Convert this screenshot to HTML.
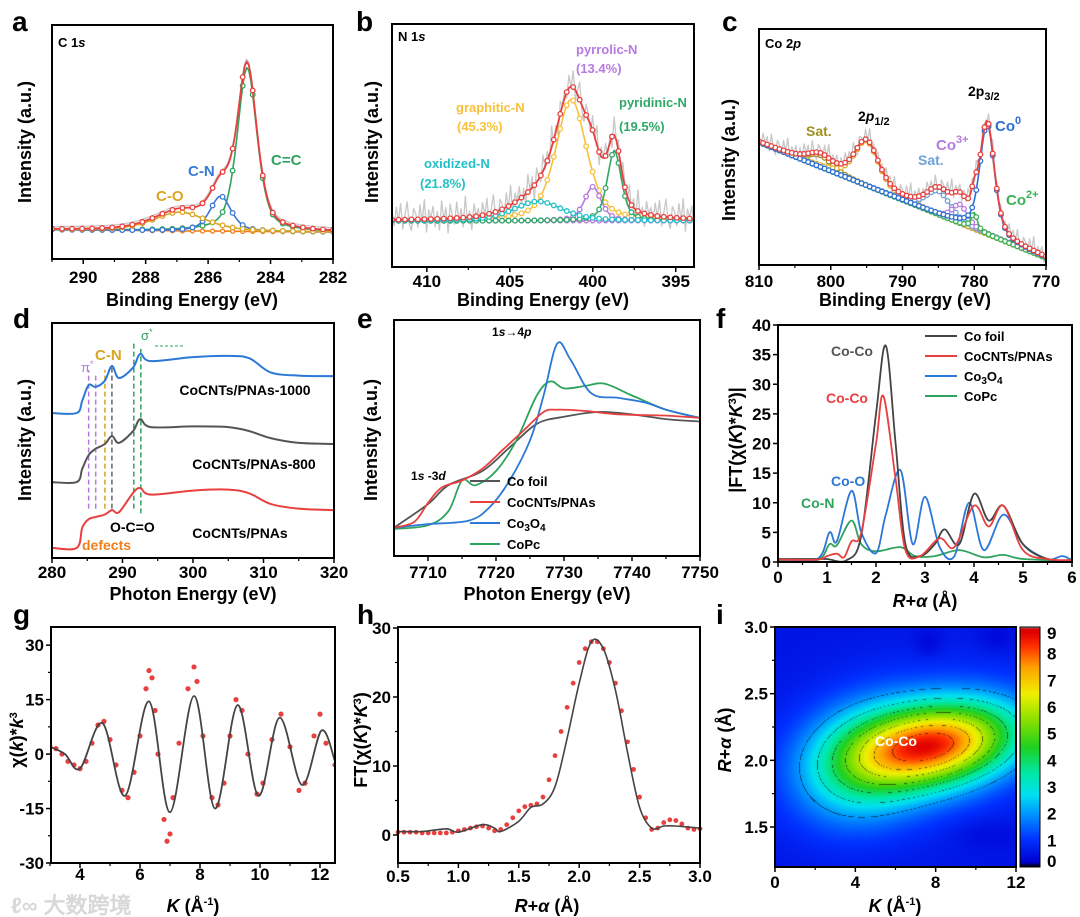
<!DOCTYPE html>
<html><head><meta charset="utf-8">
<style>
html,body{margin:0;padding:0;background:#fff;}
#wrap{position:relative;width:1080px;height:917px;overflow:hidden;background:#fff;}
#fig{position:absolute;left:0;top:0;z-index:2;}
#heat{position:absolute;left:775px;top:627px;z-index:1;}
#cbar{position:absolute;left:1020px;top:627px;z-index:1;}
text{font-family:"Liberation Sans",sans-serif;}
</style></head>
<body>
<div id="wrap">
<canvas id="heat" width="241" height="240"></canvas>
<canvas id="cbar" width="20" height="240"></canvas>
<svg id="fig" width="1080" height="917" viewBox="0 0 1080 917" xmlns="http://www.w3.org/2000/svg">
<g font-weight="bold" font-size="28">
<text x="12" y="31">a</text><text x="356" y="31">b</text><text x="722" y="31">c</text>
<text x="13" y="328">d</text><text x="357" y="328">e</text><text x="716" y="328">f</text>
<text x="13" y="624">g</text><text x="357" y="624">h</text><text x="716" y="624">i</text>
</g>
<text x="11" y="913" font-family="Liberation Sans,WenQuanYi Zen Hei,sans-serif" font-size="22" fill="#d8d8d8" font-weight="bold">ℓ∞ 大数跨境</text>
</svg>
</div>
<script>
// ---------- data ----------
const aNames=['C=C','C-N','C-O'];
const aCenters=[284.75,285.6,286.9];
const aHeights=[70,15,8];
const aFwhm=[0.75,0.8,2.0];
const aBg=[12.5,11.5];
const bNames=['graphitic','pyrrolic','pyridinic','oxidized'];
const bCenters=[401.3,400.0,398.7,403.3];
const bHeights=[50,14,29,8];
const bFwhm=[2.2,1.2,1.0,3.5];
const bBg=[19,19];
const bNoise=[3,-5,6,-2,8,-7,1,9,-4,-8,5,2,-6,7,-3,10,-9,4,-1,6,-6,3,-8,9,-2,5,-10,7,0,-5,8,-3,4,-7,11,-4,2,-9,6,-1];
const cNames=['sat1','p12','sat2','co3','co2','co0'];
const cCenters=[801.5,795,785,782,780,778.2];
const cHeights=[5,19,10,8,7,47];
const cFwhm=[4,4,4,2.5,1.0,2.4];
const cBg=[52,3];
const cNoise=[2,-3,4,-1,3,-4,5,-2,-5,3,1,-3,4,-2,6,-4,2,-1,3,-5];
const dX=[280,283.5,284.3,285.2,286.2,287.5,288.5,289.5,291.5,292.5,294,300,305,308,311,315,320];
const dBlue=[61.7,61.7,67,73.6,72.8,75.5,81.7,76.6,81,86.8,83.8,85.5,86,85,79,77.6,77.4];
const dGray=[32.3,32.3,38,43.8,46.5,48.5,51.9,49,54,59.1,55.7,56,55.7,54,51,49,48.5];
const dRed=[4.3,4.3,13,16.5,17.5,18.5,20.4,19.5,27.7,29.8,27,28.7,29.1,27.5,23,21,20.4];
const eFoilX=[7705,7710,7713,7718,7722,7726,7730,7735,7740,7745,7750];
const eFoilY=[12,22,30,36,46,56,59,61,60,58,57];
const eRedX=[7705,7708,7710,7712,7715,7718,7721,7724,7727,7729,7733,7738,7745,7750];
const eRedY=[12,14.5,22.5,29,32,37,45,53,61,62,61.5,60,59.5,58.5];
const eBlueX=[7705,7710,7716,7719,7722,7725,7727,7729,7731,7734,7738,7742,7745,7750];
const eBlueY=[12,13.5,15,20.5,32,49,68,90,83,69,67,65,62,58.5];
const eGreenX=[7705,7710,7713,7715,7717,7720,7723,7726,7728,7730,7733,7736,7740,7745,7750];
const eGreenY=[11.5,13,19,32,30,36,49,68,74,71,72,73,68,62,58.5];
const fFoilX=[0,0.8,1.0,1.4,1.7,2.0,2.2,2.4,2.6,2.9,3.2,3.4,3.7,4.0,4.3,4.6,5.0,5.5,6];
const fFoilY=[0.5,0.5,0.5,0.3,4.5,25,36.5,20,3,1,3,5.5,3,11.5,7,9.5,3,0.5,0.3];
const fRedX=[0,0.8,1.0,1.2,1.35,1.5,1.7,2.0,2.15,2.4,2.6,2.9,3.3,3.6,4.0,4.3,4.6,5.0,5.5,6];
const fRedY=[0.4,0.4,1.0,1.4,0.8,3.5,5,20,28,14,2,1,4,2.5,9.5,6,9.5,2,0.5,0.3];
const fBlueX=[0,0.8,1.05,1.2,1.5,1.7,2.0,2.2,2.5,2.75,3.0,3.3,3.6,3.9,4.2,4.6,5.0,5.5,5.8,6];
const fBlueY=[0.5,0.5,5,3.5,12,5,1.5,8,15.5,3,11,2.5,1,10,2,8,3,0.5,1,0.3];
const fGreenX=[0,0.8,1.05,1.2,1.5,1.7,2.0,2.5,2.8,3.2,3.7,4.2,4.6,5,6];
const fGreenY=[0.3,0.3,3,2.8,7,3,1.8,2.5,1,1,2,0.8,1.2,0.5,0.2];
const gFitX=[3,3.5,4.0,4.75,5.5,6.3,7.0,7.8,8.5,9.25,9.95,10.65,11.4,12.05,12.5];
const gFitY=[2,0,-4,8.5,-11.5,14.5,-16,16,-15,13.5,-11.5,10,-8.5,6.5,-2];
const gDotX=[3.0,3.2,3.4,3.6,3.8,4.0,4.2,4.4,4.6,4.8,5.0,5.2,5.4,5.6,5.8,6.0,6.2,6.3,6.4,6.5,6.6,6.8,6.9,7.0,7.1,7.3,7.6,7.8,7.9,8.1,8.4,8.6,8.8,9.0,9.2,9.4,9.6,9.9,10.1,10.4,10.7,11.0,11.3,11.5,11.8,12.0,12.2,12.5];
const gDotY=[2,1.5,0,-2,-3,-4,-2,3,8,9,4,-3,-10,-12,-5,5,18,23,21,12,0,-18,-24,-22,-12,3,18,24,20,5,-12,-14,-8,5,15,12,0,-11,-8,4,11,2,-10,-8,5,11,3,-3];
const hFitX=[0.5,0.7,0.9,1.0,1.2,1.3,1.35,1.5,1.6,1.7,1.8,1.9,2.0,2.1,2.2,2.3,2.4,2.5,2.6,2.7,2.8,3.0];
const hFitY=[0.5,0.5,0.9,0.4,1.5,1.0,0.5,2,4,4.5,7,14,22,28,27,21,12,4,1,1.3,1.3,1];
const hDotX=[0.5,0.55,0.6,0.65,0.7,0.75,0.8,0.85,0.9,0.95,1.0,1.05,1.1,1.15,1.2,1.25,1.3,1.35,1.4,1.45,1.5,1.55,1.6,1.65,1.7,1.75,1.8,1.85,1.9,1.95,2.0,2.05,2.1,2.15,2.2,2.25,2.3,2.35,2.4,2.45,2.5,2.55,2.6,2.65,2.7,2.75,2.8,2.85,2.9,2.95,3.0];
const hDotY=[0.4,0.4,0.4,0.4,0.3,0.3,0.3,0.3,0.3,0.4,0.6,0.8,1.0,1.2,1.3,1.0,0.6,0.8,1.5,2.5,3.5,4.1,4.3,4.5,5.5,8,11.5,15,18.5,22,25,27,28,28,27,25,22,18,13.5,9.5,5.5,2.5,0.8,1.0,1.8,2.2,2.1,1.6,1.0,0.8,0.9];
const iBase=0.5;
const iBlobK=[8,4.2,7,7.6,11,10.5];
const iBlobR=[2.12,1.97,2.1,2.88,2.92,1.45];
const iBlobA=[6.8,2.2,0.9,-0.35,-0.3,-0.25];
const iBlobSK=[2.8,2.2,4.0,0.5,0.6,1.2];
const iBlobSR=[0.21,0.3,0.4,0.07,0.07,0.08];
const iColorVals=[0,0.15,1,2,2.7,3.5,4.5,5.5,6.5,7.5,8.3,8.8,8.95,9];
const iColors=['#000000','#0000d0','#0030ff','#0098ff','#00e0f0','#00e8a8','#20d020','#88e000','#f0f000','#ffa000','#ff3000','#e00000','#e00000','#909090'];

// ---------- helpers ----------
const NS='http://www.w3.org/2000/svg';
const svg=document.getElementById('fig');
function mk(tag,attrs,parent){const e=document.createElementNS(NS,tag);for(const k in attrs)e.setAttribute(k,attrs[k]);(parent||svg).appendChild(e);return e;}
function lin(d0,d1,r0,r1){return v=>r0+(v-d0)/(d1-d0)*(r1-r0);}
function pv(x,c,h,f){const d=(x-c)/f;return h*(0.5*Math.exp(-4*Math.LN2*d*d)+0.5/(1+4*d*d));}
function spline(pts){if(pts.length<2)return '';let d='M'+pts[0][0].toFixed(1)+','+pts[0][1].toFixed(1);
 for(let i=0;i<pts.length-1;i++){const p0=pts[i-1]||pts[i],p1=pts[i],p2=pts[i+1],p3=pts[i+2]||p2;
  const c1=[p1[0]+(p2[0]-p0[0])/6,p1[1]+(p2[1]-p0[1])/6],c2=[p2[0]-(p3[0]-p1[0])/6,p2[1]-(p3[1]-p1[1])/6];
  d+='C'+c1[0].toFixed(1)+','+c1[1].toFixed(1)+' '+c2[0].toFixed(1)+','+c2[1].toFixed(1)+' '+p2[0].toFixed(1)+','+p2[1].toFixed(1);}
 return d;}
function poly(pts){return 'M'+pts.map(p=>p[0].toFixed(1)+','+p[1].toFixed(1)).join('L');}
function txt(x,y,s,opt,parent,name){const t=mk('text',Object.assign({x:x,y:y,'font-weight':'bold','font-size':14},opt||{}),parent);t.innerHTML=s;
 
 return t;}
function panel(name,x0,y0,x1,y1){const g=mk('g',{});
 
 
 g.frame=[x0,y0,x1,y1];return g;}
function frame(g){const [x0,y0,x1,y1]=g.frame;const r=mk('rect',{x:x0,y:y0,width:x1-x0,height:y1-y0,fill:'none',stroke:'#000','stroke-width':2},g);
 
 }
function xticks(g,sx,vals,labels,minor,ly){const y1=g.frame[3];
 vals.forEach((v,i)=>{mk('line',{x1:sx(v),x2:sx(v),y1:y1,y2:y1+5,stroke:'#000','stroke-width':1.5},g);
  txt(sx(v),ly,labels[i],{'text-anchor':'middle','font-size':17},g,'x-tick-label');});
 (minor||[]).forEach(v=>mk('line',{x1:sx(v),x2:sx(v),y1:y1,y2:y1+3,stroke:'#000','stroke-width':1.2},g));}
function yticks(g,sy,vals,labels,minor){const x0=g.frame[0];
 vals.forEach((v,i)=>{mk('line',{x1:x0-5,x2:x0,y1:sy(v),y2:sy(v),stroke:'#000','stroke-width':1.5},g);
  txt(x0-7,sy(v)+6,labels[i],{'text-anchor':'end','font-size':17},g,'y-tick-label');});
 (minor||[]).forEach(v=>mk('line',{x1:x0-3,x2:x0,y1:sy(v),y2:sy(v),stroke:'#000','stroke-width':1.2},g));}
function ytitle(g,x,y,s,name){const t=txt(x,y,s,{'text-anchor':'middle','font-size':18,transform:'rotate(-90 '+x+' '+y+')'},g,name||'y-axis-title');return t;}
function xtitle(g,x,y,s){return txt(x,y,s,{'text-anchor':'middle','font-size':18},g,'x-axis-title');}
function path(g,d,color,w,name,extra){const p=mk('path',Object.assign({d:d,fill:'none',stroke:color,'stroke-width':w,'stroke-linejoin':'round'},extra||{}),g);
 
 return p;}
function markers(g,pts,color,step,r){for(let i=0;i<pts.length;i+=step){const c=mk('circle',{cx:pts[i][0],cy:pts[i][1],r:r||2.3,fill:'#fff',stroke:color,'stroke-width':1.3},g);
 
 }}
function clip(g,id){const cp=mk('clipPath',{id:id},g);const [x0,y0,x1,y1]=g.frame;mk('rect',{x:x0,y:y0,width:x1-x0,height:y1-y0},cp);return 'url(#'+id+')';}

function xps(g,sx,sy,dom,names,centers,heights,fwhm,bg,colors,bgColor,noise,noiseAmp,cid,step){
 const N=140,xs=[];for(let i=0;i<=N;i++)xs.push(dom[0]+(dom[1]-dom[0])*i/N);
 const bgf=x=>bg[0]+(bg[1]-bg[0])*(x-dom[0])/(dom[1]-dom[0]);
 const cp=clip(g,cid);const inner=mk('g',{'clip-path':cp},g);
 const sum=xs.map(x=>{let s=bgf(x);centers.forEach((c,i)=>s+=pv(x,c,heights[i],fwhm[i]));return s;});
 const raw=xs.map((x,i)=>[sx(x),sy(sum[i]+1+(noise?noise[i%noise.length]*noiseAmp:0))]);
 path(inner,poly(raw),'#c8c8c8',1.3,'raw-data');
 const bgp=xs.map(x=>[sx(x),sy(bgf(x))]);
 path(inner,poly(bgp),bgColor,1.6,'background-line');markers(inner,bgp,bgColor,step,2);
 centers.forEach((c,j)=>{const pts=xs.map(x=>[sx(x),sy(bgf(x)+pv(x,c,heights[j],fwhm[j]))]);
  path(inner,poly(pts),colors[j],1.6,'component-'+names[j]);markers(inner,pts,colors[j],step);});
 const sp=xs.map((x,i)=>[sx(x),sy(sum[i])]);
 path(inner,poly(sp),'#e8403f',1.8,'envelope-fit');markers(inner,sp,'#e8403f',step);
}

// ---------- panel a ----------
(function(){const g=panel('panel-a-c1s',52,25,333,259);
 const sx=lin(291,282,52,333),sy=lin(0,100,259,25);
 xps(g,sx,sy,[291,282],aNames,aCenters,aHeights,aFwhm,aBg,['#2ea35d','#3a78d8','#d8a524'],'#f07f1a',null,0,'ca',5);
 frame(g);xticks(g,sx,[290,288,286,284,282],['290','288','286','284','282'],[291,289,287,285,283],283);
 ytitle(g,31,142,'Intensity (a.u.)');xtitle(g,192,306,'Binding Energy (eV)');
 txt(58,47,'C 1<tspan font-style="italic">s</tspan>',{'font-size':13},g,'spectrum-label');
 txt(188,176,'C-N',{fill:'#3a78d8','font-size':15},g,'peak-label-cn');
 txt(156,201,'C-O',{fill:'#d8a524','font-size':15},g,'peak-label-co');
 txt(271,165,'C=C',{fill:'#2ea35d','font-size':15},g,'peak-label-cc');})();

// ---------- panel b ----------
(function(){const g=panel('panel-b-n1s',392,24,694,267);
 const sx=lin(412.1,393.9,392,694),sy=lin(0,100,267,24);
 xps(g,sx,sy,[412.1,393.9],bNames,bCenters,bHeights,bFwhm,bBg,['#f8c13a','#b57be0','#2fa868','#22c0c8'],'#b57be0',bNoise,0.7,'cb',3);
 frame(g);xticks(g,sx,[410,405,400,395],['410','405','400','395'],[407.5,402.5,397.5],287);
 ytitle(g,378,142,'Intensity (a.u.)');xtitle(g,543,306,'Binding Energy (eV)');
 txt(398,41,'N 1<tspan font-style="italic">s</tspan>',{'font-size':13},g,'spectrum-label');
 txt(576,54,'pyrrolic-N',{fill:'#b57be0','font-size':13},g,'label-pyrrolic');
 txt(576,73,'(13.4%)',{fill:'#b57be0','font-size':13},g,'label-pyrrolic-pct');
 txt(456,112,'graphitic-N',{fill:'#f8c13a','font-size':13},g,'label-graphitic');
 txt(457,131,'(45.3%)',{fill:'#f8c13a','font-size':13},g,'label-graphitic-pct');
 txt(619,107,'pyridinic-N',{fill:'#2fa868','font-size':13},g,'label-pyridinic');
 txt(619,131,'(19.5%)',{fill:'#2fa868','font-size':13},g,'label-pyridinic-pct');
 txt(424,168,'oxidized-N',{fill:'#22c0c8','font-size':13},g,'label-oxidized');
 txt(420,188,'(21.8%)',{fill:'#22c0c8','font-size':13},g,'label-oxidized-pct');})();

// ---------- panel c ----------
(function(){const g=panel('panel-c-co2p',759,29,1046,265);
 const sx=lin(810,770,759,1046),sy=lin(0,100,265,29);
 xps(g,sx,sy,[810,770],cNames,cCenters,cHeights,cFwhm,cBg,['#9a8a2a','#e0b030','#6fa0d8','#b57be0','#3ab050','#2b6fd6'],'#8b5a4a',cNoise,0.8,'cc',2);
 frame(g);xticks(g,sx,[810,800,790,780,770],['810','800','790','780','770'],[805,795,785,775],287);
 ytitle(g,735,160,'Intensity (a.u.)');xtitle(g,905,306,'Binding Energy (eV)');
 txt(765,48,'Co 2<tspan font-style="italic">p</tspan>',{'font-size':13},g,'spectrum-label');
 txt(858,121,'2<tspan font-style="italic">p</tspan><tspan font-size="11" dy="4">1/2</tspan>',{'font-size':14},g,'label-2p12');
 txt(968,96,'2p<tspan font-size="11" dy="4">3/2</tspan>',{'font-size':14},g,'label-2p32');
 txt(806,136,'Sat.',{fill:'#a09020','font-size':14},g,'label-sat1');
 txt(995,131,'Co<tspan font-size="11" dy="-7">0</tspan>',{fill:'#2b6fd6','font-size':15},g,'label-co0');
 txt(936,150,'Co<tspan font-size="11" dy="-7">3+</tspan>',{fill:'#b57be0','font-size':15},g,'label-co3');
 txt(918,165,'Sat.',{fill:'#6fa0d8','font-size':14},g,'label-sat2');
 txt(1006,205,'Co<tspan font-size="11" dy="-7">2+</tspan>',{fill:'#3ab050','font-size':15},g,'label-co2');})();

// ---------- panel d ----------
(function(){const g=panel('panel-d-nexafs',52,323,334,558);
 const sx=lin(280,320,52,334),sy=lin(0,100,558,323);
 const vl=[[283.5,'#f07f1a',14,4],[285.2,'#b57be0',28,80],[286.2,'#b57be0',28,78],[287.5,'#d8a524',28,80],[288.5,'#666',28,82],[291.6,'#2ea35d',28,92],[292.6,'#2ea35d',26,89]];
 vl.forEach(v=>{const l=mk('line',{x1:sx(v[0]),x2:sx(v[0]),y1:sy(v[2]+(v[0]<284?-10:-7)),y2:sy(v[3]),stroke:v[1],'stroke-width':1.5,'stroke-dasharray':'5,3'},g);
  
  });
 [[dBlue,'#2b78d6','curve-1000'],[dGray,'#555','curve-800'],[dRed,'#e8403f','curve-cocnts']].forEach(s=>path(g,spline(dX.map((x,i)=>[sx(x),sy(s[0][i])])),s[1],2,s[2]));
 frame(g);xticks(g,sx,[280,290,300,310,320],['280','290','300','310','320'],[285,295,305,315],578);
 ytitle(g,31,440,'Intensity (a.u.)');xtitle(g,193,600,'Photon Energy (eV)');
 txt(245,395,'CoCNTs/PNAs-1000',{'text-anchor':'middle','font-size':14},g,'label-1000');
 txt(254,469,'CoCNTs/PNAs-800',{'text-anchor':'middle','font-size':14},g,'label-800');
 txt(240,538,'CoCNTs/PNAs',{'text-anchor':'middle','font-size':14},g,'label-cocnts');
 txt(110,532,'O-C=O',{'font-size':14},g,'label-oco');
 txt(82,550,'defects',{fill:'#f07f1a','font-size':14},g,'label-defects');
 txt(95,360,'C-N',{fill:'#d8a524','font-size':15,'font-family':'Liberation Serif,serif'},g,'label-cn');
 txt(81,372,'π<tspan font-size="9" dy="-5">*</tspan>',{fill:'#b57be0','font-size':13,'font-weight':'normal'},g,'label-pi');
 txt(141,340,'σ<tspan font-size="9" dy="-5">*</tspan>',{fill:'#2ea35d','font-size':13,'font-weight':'normal'},g,'label-sigma');
 const ar=mk('line',{x1:155,x2:184,y1:346,y2:346,stroke:'#2ea35d','stroke-width':1,'stroke-dasharray':'3,2'},g);
 
 })();

// ---------- panel e ----------
(function(){const g=panel('panel-e-xanes',394,320,700,556);
 const sx=lin(7705,7750,394,700),sy=lin(0,100,556,320);
 [[eFoilX,eFoilY,'#555','co-foil'],[eGreenX,eGreenY,'#2ea35d','copc'],[eBlueX,eBlueY,'#2b78d6','co3o4'],[eRedX,eRedY,'#e8403f','cocnts']].forEach(s=>path(g,spline(s[0].map((x,i)=>[sx(x),sy(s[1][i])])),s[2],1.8,'curve-'+s[3]));
 frame(g);xticks(g,sx,[7710,7720,7730,7740,7750],['7710','7720','7730','7740','7750'],[7715,7725,7735,7745],578);
 ytitle(g,377,440,'Intensity (a.u.)');xtitle(g,547,600,'Photon Energy (eV)');
 txt(492,336,'1<tspan font-style="italic">s</tspan>→4<tspan font-style="italic">p</tspan>',{'font-size':12},g,'label-1s4p');
 txt(411,480,'1<tspan font-style="italic">s</tspan>  -3<tspan font-style="italic">d</tspan>',{'font-size':12},g,'label-1s3d');
 [['Co foil','#555'],['CoCNTs/PNAs','#e8403f'],['Co<tspan font-size="10" dy="3">3</tspan><tspan dy="-3">O</tspan><tspan font-size="10" dy="3">4</tspan>','#2b78d6'],['CoPc','#2ea35d']].forEach((l,i)=>{const y=481+i*21;
  const ln=mk('line',{x1:470,x2:500,y1:y,y2:y,stroke:l[1],'stroke-width':2},g);
  
  
  txt(507,y+5,l[0],{'font-size':13},g,'legend-entry');});})();

// ---------- panel f ----------
(function(){const g=panel('panel-f-ft-exafs',778,325,1072,562);
 const sx=lin(0,6,778,1072),sy=lin(0,40,562,325);
 [[fGreenX,fGreenY,'#2ea35d','copc'],[fBlueX,fBlueY,'#2b78d6','co3o4'],[fFoilX,fFoilY,'#444','co-foil'],[fRedX,fRedY,'#e8403f','cocnts']].forEach(s=>path(g,spline(s[0].map((x,i)=>[sx(x),sy(Math.max(0,s[1][i]))])),s[2],1.8,'curve-'+s[3]));
 frame(g);xticks(g,sx,[0,1,2,3,4,5,6],['0','1','2','3','4','5','6'],[0.5,1.5,2.5,3.5,4.5,5.5],583);
 yticks(g,sy,[0,5,10,15,20,25,30,35,40],['0','5','10','15','20','25','30','35','40']);
 ytitle(g,742,440,'|FT(χ(<tspan font-style="italic">K</tspan>)*<tspan font-style="italic">K</tspan><tspan font-size="11" dy="-6">3</tspan><tspan dy="6">)|</tspan>');
 xtitle(g,925,607,'<tspan font-style="italic">R</tspan>+<tspan font-style="italic">α</tspan> (Å)');
 [['Co foil','#444'],['CoCNTs/PNAs','#e8403f'],['Co<tspan font-size="10" dy="3">3</tspan><tspan dy="-3">O</tspan><tspan font-size="10" dy="3">4</tspan>','#2b78d6'],['CoPc','#2ea35d']].forEach((l,i)=>{const y=336+i*20;
  const ln=mk('line',{x1:925,x2:957,y1:y,y2:y,stroke:l[1],'stroke-width':2},g);
  
  
  txt(964,y+5,l[0],{'font-size':13},g,'legend-entry');});
 txt(831,356,'Co-Co',{fill:'#555','font-size':14},g,'label-coco-foil');
 txt(826,403,'Co-Co',{fill:'#e8403f','font-size':14},g,'label-coco-red');
 txt(831,486,'Co-O',{fill:'#2b78d6','font-size':14},g,'label-coo');
 txt(801,508,'Co-N',{fill:'#2ea35d','font-size':14},g,'label-con');})();

// ---------- panel g ----------
(function(){const g=panel('panel-g-kspace',51,627,335,863);
 const sx=lin(3,12.5,50,335),sy=lin(-30,35,863,627);
 const cp=clip(g,'cg');const inner=mk('g',{'clip-path':cp},g);
 gDotX.forEach((x,i)=>{const c=mk('circle',{cx:sx(x),cy:sy(gDotY[i]),r:2.6,fill:'#e8403f'},inner);
  
  });
 path(inner,spline(gFitX.map((x,i)=>[sx(x),sy(gFitY[i])])),'#444',1.8,'fit-curve');
 frame(g);xticks(g,sx,[4,6,8,10,12],['4','6','8','10','12'],[3,5,7,9,11],880);
 yticks(g,sy,[-30,-15,0,15,30],['-30','-15','0','15','30'],[-22.5,-7.5,7.5,22.5]);
 ytitle(g,23,740,'χ(<tspan font-style="italic">k</tspan>)*<tspan font-style="italic">k</tspan><tspan font-size="11" dy="-6">3</tspan>');
 xtitle(g,193,912,'<tspan font-style="italic">K</tspan> (Å<tspan font-size="11" dy="-7">-1</tspan><tspan dy="7">)</tspan>');})();

// ---------- panel h ----------
(function(){const g=panel('panel-h-rspace',398,627,700,863);
 const sx=lin(0.5,3.0,398,700),sy=lin(0,30,835,628);
 hDotX.forEach((x,i)=>{const c=mk('circle',{cx:sx(x),cy:sy(hDotY[i]),r:2.4,fill:'#e8403f'},g);
  
  });
 path(g,spline(hFitX.map((x,i)=>[sx(x),sy(hFitY[i])])),'#444',1.6,'fit-curve');
 frame(g);xticks(g,sx,[0.5,1.0,1.5,2.0,2.5,3.0],['0.5','1.0','1.5','2.0','2.5','3.0'],[0.75,1.25,1.75,2.25,2.75],882);
 yticks(g,sy,[0,10,20,30],['0','10','20','30'],[5,15,25]);
 ytitle(g,367,740,'FT(χ(<tspan font-style="italic">K</tspan>)*<tspan font-style="italic">K</tspan><tspan font-size="11" dy="-6">3</tspan><tspan dy="6">)</tspan>');
 xtitle(g,547,912,'<tspan font-style="italic">R</tspan>+<tspan font-style="italic">α</tspan> (Å)');})();

// ---------- panel i ----------
function cmap(v){v=Math.max(0,Math.min(9,v));let j=0;while(j<iColorVals.length-2&&v>iColorVals[j+1])j++;
 const t=(v-iColorVals[j])/(iColorVals[j+1]-iColorVals[j]||1);
 const a=iColors[j],b=iColors[j+1];const p=(h,o)=>parseInt(h.substr(o,2),16);
 return [0,1,2].map(k=>Math.round(p(a,1+2*k)*(1-t)+p(b,1+2*k)*t));}
(function(){const g=panel('panel-i-wavelet',775,627,1016,867);
 const sx=lin(0,12,775,1016),sy=lin(1.2,3.0,867,627);
 const cv=document.getElementById('heat'),ctx=cv.getContext('2d'),W=cv.width,H=cv.height,img=ctx.createImageData(W,H);
 for(let py=0;py<H;py++)for(let px=0;px<W;px++){const k=px/W*12,R=3.0-py/H*1.8;let v=iBase;
  for(let b=0;b<iBlobK.length;b++){const dk=(k-iBlobK[b])/iBlobSK[b],dr=(R-iBlobR[b]-0.02*(k-iBlobK[b])*(b<3?1:0))/iBlobSR[b];v+=iBlobA[b]*Math.exp(-0.5*(dk*dk+dr*dr));}
  let c=cmap(v);const f=v-Math.floor(v);if(v>1.5&&v<8.9&&(f<0.04))c=c.map(x=>x*0.45);
  const o=(py*W+px)*4;img.data[o]=c[0];img.data[o+1]=c[1];img.data[o+2]=c[2];img.data[o+3]=255;}
 ctx.putImageData(img,0,0);
 const cb=document.getElementById('cbar'),cc=cb.getContext('2d');
 for(let py=0;py<240;py++){const v=9-(py/239)*9;const c=cmap(v);cc.fillStyle='rgb('+c.join(',')+')';cc.fillRect(0,py,20,1);}
 frame(g);xticks(g,sx,[0,4,8,12],['0','4','8','12'],[2,6,10],888);
 yticks(g,sy,[1.5,2.0,2.5,3.0],['1.5','2.0','2.5','3.0'],[1.75,2.25,2.75]);
 ytitle(g,731,740,'<tspan font-style="italic">R</tspan>+<tspan font-style="italic">α</tspan> (Å)');
 xtitle(g,895,912,'<tspan font-style="italic">K</tspan> (Å<tspan font-size="11" dy="-7">-1</tspan><tspan dy="7">)</tspan>');
 txt(896,746,'Co-Co',{fill:'#fff','font-size':14,'text-anchor':'middle'},g,'label-coco');
 const cbr=mk('rect',{x:1020,y:627,width:20,height:240,fill:'none',stroke:'#000','stroke-width':1},g);
 
 
 [0,1,2,3,4,5,6,7,8,9].forEach(v=>txt(1047,867-v*240/9+(v==0?0:v==9?12:6),String(v),{'font-size':17},g,'colorbar-tick'));})();
</script>
</body></html>
